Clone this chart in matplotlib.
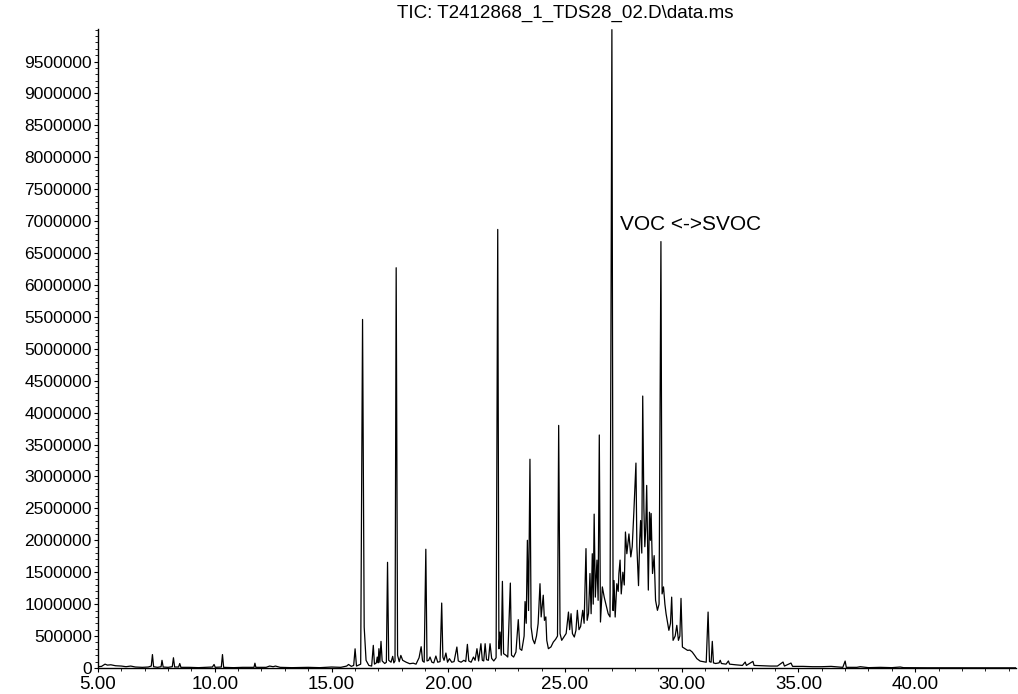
import matplotlib
matplotlib.use("Agg")
import matplotlib.pyplot as plt
from matplotlib.ticker import MultipleLocator, FixedLocator, FormatStrFormatter

# retention time (min) and abundance
rt = [5.00, 5.15, 5.30, 5.40, 5.55, 5.75, 6.00, 6.20, 6.40, 6.60, 6.90, 7.15, 7.28, 7.33, 7.38,
      7.55, 7.70, 7.74, 7.79, 8.00, 8.18, 8.23, 8.28, 8.45, 8.50, 8.55, 8.90, 9.30, 9.90, 9.97,
      10.02, 10.28, 10.33, 10.38, 10.80, 11.20, 11.68, 11.72, 11.76, 12.20, 12.35, 12.50, 12.60,
      12.80, 13.30, 14.00, 14.50, 15.00, 15.40, 15.65, 15.73, 15.85, 15.95, 16.01, 16.07, 16.25,
      16.33, 16.40, 16.48, 16.60, 16.72, 16.79, 16.84, 16.92, 16.96, 17.00, 17.03, 17.07, 17.12,
      17.17, 17.28, 17.35, 17.40, 17.45, 17.55, 17.62, 17.67, 17.72, 17.77, 17.83, 17.90, 17.97,
      18.05, 18.20, 18.35, 18.50, 18.62, 18.75, 18.84, 18.90, 18.97, 19.04, 19.09, 19.16, 19.22,
      19.30, 19.38, 19.47, 19.55, 19.65, 19.72, 19.77, 19.82, 19.90, 19.97, 20.05, 20.15, 20.25,
      20.37, 20.43, 20.55, 20.67, 20.75, 20.82, 20.88, 20.98, 21.08, 21.15, 21.23, 21.30, 21.40,
      21.46, 21.52, 21.58, 21.64, 21.72, 21.79, 21.86, 21.95, 22.05, 22.12, 22.17, 22.22, 22.27,
      22.32, 22.37, 22.47, 22.55, 22.66, 22.71, 22.80, 22.90, 23.00, 23.07, 23.15, 23.25, 23.29,
      23.34, 23.39, 23.44, 23.50, 23.55, 23.62, 23.70, 23.78, 23.85, 23.93, 23.98, 24.07, 24.12,
      24.18, 24.22, 24.29, 24.40, 24.50, 24.60, 24.68, 24.73, 24.79, 24.86, 24.95, 25.05, 25.15,
      25.20, 25.26, 25.32, 25.40, 25.47, 25.53, 25.60, 25.67, 25.76, 25.82, 25.90, 25.95, 26.01,
      26.07, 26.12, 26.17, 26.21, 26.25, 26.30, 26.37, 26.42, 26.47, 26.52, 26.60, 26.68, 26.75,
      26.85, 26.93, 27.01, 27.06, 27.10, 27.15, 27.22, 27.28, 27.31, 27.36, 27.41, 27.48, 27.54,
      27.59, 27.65, 27.74, 27.82, 27.88, 27.95, 28.04, 28.08, 28.15, 28.20, 28.24, 28.29, 28.33,
      28.38, 28.42, 28.46, 28.50, 28.57, 28.62, 28.66, 28.69, 28.75, 28.82, 28.88, 28.96, 29.03,
      29.11, 29.16, 29.22, 29.28, 29.33, 29.45, 29.52, 29.57, 29.63, 29.72, 29.79, 29.86, 29.92,
      29.97, 30.03, 30.15, 30.25, 30.35, 30.45, 30.55, 30.65, 30.79, 30.90, 31.05, 31.13, 31.19,
      31.26, 31.31, 31.36, 31.45, 31.60, 31.65, 31.70, 31.90, 32.00, 32.05, 32.30, 32.60, 32.72,
      32.77, 33.05, 33.10, 33.40, 33.80, 34.10, 34.34, 34.40, 34.68, 34.75, 35.20, 35.60, 36.00,
      36.40, 36.90, 37.00, 37.05, 37.50, 37.65, 38.00, 38.50, 39.00, 39.36, 39.50, 40.50, 42.00,
      44.40]
tic = [20e3, 25e3, 60e3, 45e3, 50e3, 35e3, 30e3, 20e3, 30e3, 15e3, 10e3, 15e3, 30e3, 210e3, 20e3,
       10e3, 20e3, 120e3, 15e3, 10e3, 20e3, 160e3, 15e3, 15e3, 70e3, 10e3, 10e3, 5e3, 15e3, 55e3,
       10e3, 15e3, 210e3, 10e3, 5e3, 10e3, 10e3, 75e3, 10e3, 10e3, 30e3, 20e3, 30e3,
       10e3, 5e3, 10e3, 5e3, 15e3, 10e3, 30e3, 55e3, 25e3, 40e3, 300e3, 30e3, 60e3,
       5.46e6, 640e3, 120e3, 40e3, 30e3, 354e3, 60e3, 80e3, 171e3, 80e3, 302e3, 90e3, 417e3,
       110e3, 70e3, 90e3, 1.655e6, 120e3, 90e3, 182e3, 80e3, 110e3, 6.27e6, 200e3, 98e3, 197e3,
       120e3, 90e3, 67e3, 75e3, 60e3, 160e3, 333e3, 110e3, 90e3, 1.86e6, 110e3, 120e3, 171e3,
       90e3, 80e3, 187e3, 90e3, 100e3, 1.017e6, 171e3, 120e3, 234e3, 90e3, 146e3, 90e3, 100e3,
       328e3, 110e3, 90e3, 120e3, 100e3, 370e3, 110e3, 90e3, 171e3, 120e3, 302e3, 110e3, 380e3,
       120e3, 110e3, 380e3, 130e3, 120e3, 380e3, 150e3, 110e3, 160e3, 6.87e6, 300e3, 563e3, 200e3,
       1.357e6, 224e3, 200e3, 171e3, 1.33e6, 200e3, 171e3, 250e3, 757e3, 300e3, 276e3, 500e3, 1.04e6,
       700e3, 2.0e6, 900e3, 3.27e6, 640e3, 450e3, 380e3, 500e3, 694e3, 1.32e6, 800e3, 1.14e6, 746e3,
       800e3, 433e3, 302e3, 330e3, 406e3, 450e3, 500e3, 3.80e6, 538e3, 433e3, 485e3, 540e3, 876e3,
       600e3, 850e3, 538e3, 485e3, 590e3, 903e3, 600e3, 650e3, 903e3, 700e3, 1.87e6, 746e3, 855e3,
       1.48e6, 850e3, 1.79e6, 1.0e6, 2.41e6, 1.11e6, 1.69e6, 1.06e6, 3.65e6, 720e3, 1.27e6, 1.11e6, 1.0e6,
       850e3, 800e3, 10.0e6, 900e3, 1.37e6, 798e3, 1.32e6, 1.2e6, 1.48e6, 1.69e6, 1.16e6, 1.5e6, 1.3e6,
       2.13e6, 1.79e6, 2.10e6, 1.74e6, 1.9e6, 2.44e6, 3.21e6, 1.9e6, 1.29e6, 2.0e6, 2.31e6, 1.8e6, 4.26e6,
       2.5e6, 1.9e6, 2.2e6, 2.86e6, 1.22e6, 2.44e6, 2.0e6, 2.42e6, 1.48e6, 1.76e6, 1.06e6, 903e3, 1.0e6,
       6.68e6, 1.16e6, 1.27e6, 1.0e6, 850e3, 590e3, 700e3, 1.11e6, 433e3, 500e3, 668e3, 433e3, 500e3,
       1.09e6, 328e3, 300e3, 276e3, 280e3, 250e3, 200e3, 146e3, 108e3, 100e3, 90e3, 876e3, 100e3,
       90e3, 417e3, 80e3, 70e3, 80e3, 120e3, 70e3, 60e3, 110e3, 60e3, 50e3, 40e3, 93e3,
       40e3, 103e3, 40e3, 35e3, 30e3, 30e3, 93e3, 30e3, 77e3, 25e3, 25e3, 20e3, 20e3,
       25e3, 10e3, 108e3, 10e3, 10e3, 20e3, 5e3, 10e3, 5e3, 15e3, 5e3, 3e3, 2e3,
       2e3]

y_ticks = [i * 500000 for i in range(20)]   # 0 .. 9500000
title = "TIC: T2412868_1_TDS28_02.D\\data.ms"
note = "VOC <->SVOC"

plt.rcParams['font.family'] = ['Liberation Sans', 'DejaVu Sans']

fig = plt.figure(figsize=(10.18, 6.94), dpi=100)
ax = fig.add_axes([0.0963, 0.0375, 0.902, 0.9207])
ax.plot(rt, tic, color='black', lw=0.9)

ax.set_xlim(5.0, 44.33)
ax.set_ylim(0, 10.01e6)
for s in ['top', 'right']:
    ax.spines[s].set_visible(False)
ax.spines['left'].set_linewidth(1)
ax.spines['bottom'].set_linewidth(1)

ax.xaxis.set_major_locator(MultipleLocator(5))
ax.xaxis.set_minor_locator(MultipleLocator(1))
ax.xaxis.set_major_formatter(FormatStrFormatter('%.2f'))
ax.yaxis.set_major_locator(FixedLocator(y_ticks))
ax.yaxis.set_minor_locator(MultipleLocator(100000))
ax.yaxis.set_major_formatter(FormatStrFormatter('%d'))
ax.tick_params(axis='both', which='major', length=3, width=0.8)
ax.tick_params(axis='y', which='major', labelsize=12.5, pad=1.5)
ax.tick_params(axis='x', which='major', labelsize=13.5, pad=3)
ax.tick_params(axis='both', which='minor', length=2, width=0.6)

fig.text(565 / 1018, 1 - 13 / 694, title, ha='center', va='center', fontsize=13.5)
ax.text(27.36, 6.94e6, note, ha='left', va='center', fontsize=15)

fig.savefig('out.png', dpi=100)
